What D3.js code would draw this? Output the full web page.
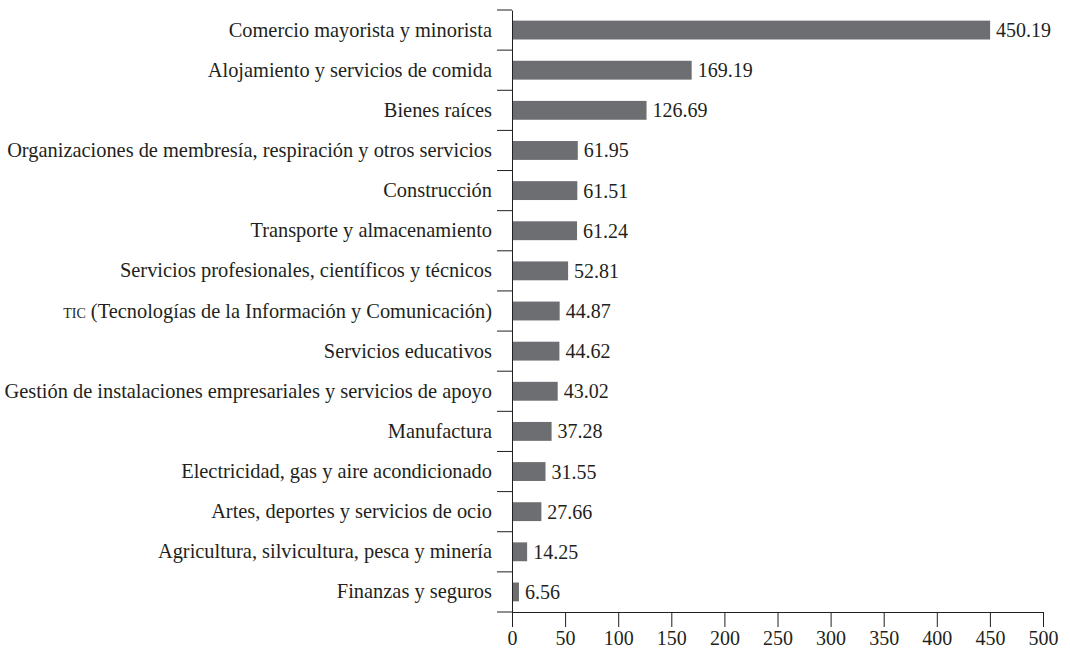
<!DOCTYPE html>
<html>
<head>
<meta charset="utf-8">
<script src="https://cdn.jsdelivr.net/npm/d3@7"></script>
<style>
  body { margin: 0; background: #fff; }
  svg text { font-family: "Liberation Serif", "DejaVu Serif", serif; fill: #231f20; }
</style>
</head>
<body>
<div id="chart"></div>
<script>
// sectors, top to bottom
var sectors = [
  "Comercio mayorista y minorista",
  "Alojamiento y servicios de comida",
  "Bienes raíces",
  "Organizaciones de membresía, respiración y otros servicios",
  "Construcción",
  "Transporte y almacenamiento",
  "Servicios profesionales, científicos y técnicos",
  "TIC (Tecnologías de la Información y Comunicación)",
  "Servicios educativos",
  "Gestión de instalaciones empresariales y servicios de apoyo",
  "Manufactura",
  "Electricidad, gas y aire acondicionado",
  "Artes, deportes y servicios de ocio",
  "Agricultura, silvicultura, pesca y minería",
  "Finanzas y seguros"
];
var values = [450.19, 169.19, 126.69, 61.95, 61.51, 61.24, 52.81, 44.87, 44.62, 43.02, 37.28, 31.55, 27.66, 14.25, 6.56];
var xTicks = [0, 50, 100, 150, 200, 250, 300, 350, 400, 450, 500];

var width = 1070, height = 651;
var margin = {top: 10, left: 512, right: 27, bottom: 39};
var w = width - margin.left - margin.right,
    h = height - margin.top - margin.bottom;
var fs = "20px";

var svg = d3.select("#chart").append("svg")
  .attr("width", width)
  .attr("height", height)
  .append("g")
  .attr("transform", "translate(" + margin.left + "," + margin.top + ")");

var x = d3.scaleLinear().domain([0, 500]).range([0, w]);
var y = d3.scaleBand().domain(sectors).range([0, h])
  .paddingInner(0.53).paddingOuter(0.265);

var axisColor = "#231f20";

// bars
svg.selectAll("rect.bar")
  .data(values)
  .enter().append("rect")
  .attr("class", "bar")
  .attr("x", x(0))
  .attr("y", function(d, i) { return y(sectors[i]); })
  .attr("width", function(d) { return x(d) - x(0); })
  .attr("height", y.bandwidth())
  .attr("fill", "#6d6e71");

// value labels
svg.selectAll("text.val")
  .data(values)
  .enter().append("text")
  .attr("class", "val")
  .attr("x", function(d) { return x(d) + 6; })
  .attr("y", function(d, i) { return y(sectors[i]) + y.bandwidth() / 2; })
  .attr("dy", "0.35em")
  .style("font-size", fs)
  .text(function(d) { return d.toFixed(2); });

// x axis
var gx = svg.append("g")
  .attr("transform", "translate(0," + h + ")")
  .call(d3.axisBottom(x).tickValues(xTicks).tickSize(15).tickSizeOuter(0).tickPadding(4));
gx.selectAll("text").style("font-size", fs);

// y axis: labels
var gy = svg.append("g")
  .call(d3.axisLeft(y).tickSize(0).tickPadding(20));
gy.selectAll(".tick text").style("font-size", "20.4px")
  .each(function(d) {
    if (d.indexOf("TIC") === 0) {
      var t = d3.select(this);
      t.text("");
      t.append("tspan").style("font-variant", "small-caps").text("tic");
      t.append("tspan").text(d.slice(3));
    }
  });

// boundary ticks between categories
var bounds = d3.range(sectors.length + 1).map(function(i) { return i * y.step(); });
svg.selectAll("line.btick")
  .data(bounds)
  .enter().append("line")
  .attr("class", "btick")
  .attr("x1", -15).attr("x2", 0)
  .attr("y1", function(d) { return d; })
  .attr("y2", function(d) { return d; })
  .attr("stroke", axisColor);

svg.selectAll(".domain, .tick line").attr("stroke", axisColor);
</script>
</body>
</html>
